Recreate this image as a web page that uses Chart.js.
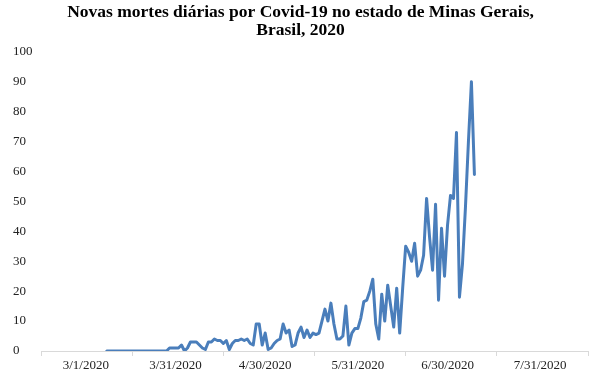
<!DOCTYPE html>
<html lang="pt">
<head>
    <meta charset="UTF-8">
    <title>Novas mortes diárias por Covid-19 - Minas Gerais</title>
    <style>
        body { margin: 0; background: #fff; }
        #grafico { display: block; }
    </style>
</head>
<body>
    <canvas id="grafico" width="600" height="386"></canvas>
    <script src="https://cdn.jsdelivr.net/npm/chart.js"></script>
    <script>
    // dias contados a partir de 1/3/2020 (dia 0)
    const rotulosDatas = ['3/1/2020', '3/31/2020', '4/30/2020', '5/31/2020', '6/30/2020', '7/31/2020'];
    const diasRotulos = [0, 30, 60, 91, 121, 152];
    const diasMarcas = [-15, 15.5, 46, 76.5, 107, 137.5, 168];
    const primeiroDia = 7; // 8/3/2020
    const mortesDiarias = [
        0, 0, 0, 0, 0, 0, 0, 0, 0, 0, 0, 0, 0, 0, 0, 0, 0, 0, 0, 0, 0,
        1, 1, 1, 1, 2, 0, 1, 3, 3, 3, 2, 1, 0.5, 3, 3, 4, 3.5, 3.5, 2.5, 3.5,
        0.5, 2.5, 3.5, 3.5, 4, 3.5, 4, 2.5, 2, 9, 9, 2, 6, 0.5, 1, 2.5, 3.5, 4,
        9, 6, 7, 1.5, 2, 6, 8, 4.5, 7, 4.5, 6, 5.5, 6,
        10, 14, 10, 16, 9, 4, 4, 5, 15, 2, 6, 7.5, 7.5, 11, 16.5, 17, 20, 24,
        9, 4, 19, 10, 22, 15, 8, 21, 6, 21, 35, 33, 30, 36, 25, 27, 32, 51,
        38, 27, 49, 17, 41, 25, 42, 52, 51, 73, 18, 29, 48, 70, 90, 59
    ];

    const pontos = mortesDiarias.map((v, i) => ({ x: primeiroDia + i, y: v }));
    const corEixo = '#d9d9d9';

    new Chart(document.getElementById('grafico'), {
        type: 'line',
        data: {
            datasets: [{
                data: pontos,
                borderColor: '#4a7ebb',
                borderWidth: 3,
                borderJoinStyle: 'round',
                borderCapStyle: 'round',
                pointRadius: 0,
                tension: 0,
                fill: false
            }]
        },
        options: {
            responsive: false,
            animation: false,
            layout: { padding: { left: 13, right: 12, top: 0, bottom: 0 } },
            plugins: {
                legend: { display: false },
                tooltip: { enabled: false },
                title: {
                    display: true,
                    text: ['Novas mortes diárias por Covid-19 no estado de Minas Gerais,', 'Brasil, 2020'],
                    color: '#000',
                    font: { family: 'Liberation Serif', size: 17.5, weight: 'bold', lineHeight: 1.05 },
                    padding: { top: 3, bottom: 12 }
                }
            },
            scales: {
                x: {
                    type: 'linear',
                    min: diasMarcas[0],
                    max: diasMarcas[diasMarcas.length - 1],
                    afterBuildTicks: (eixo) => {
                        const todos = diasMarcas.concat(diasRotulos).sort((a, b) => a - b);
                        eixo.ticks = todos.map(v => ({ value: v }));
                    },
                    afterFit: (eixo) => { eixo.height = 35; },
                    ticks: {
                        autoSkip: false,
                        maxRotation: 0,
                        padding: 2,
                        color: '#222',
                        font: { family: 'Liberation Serif', size: 13 },
                        callback: (valor) => {
                            const k = diasRotulos.indexOf(valor);
                            return k >= 0 ? rotulosDatas[k] : '';
                        }
                    },
                    grid: {
                        drawOnChartArea: false,
                        tickLength: 5,
                        tickColor: (ctx) => diasMarcas.includes(ctx.tick.value) ? corEixo : 'rgba(0,0,0,0)'
                    },
                    border: { color: corEixo, width: 1 }
                },
                y: {
                    min: 0,
                    max: 100,
                    afterFit: (eixo) => { eixo.width = 28; },
                    ticks: {
                        stepSize: 10,
                        crossAlign: 'far',
                        color: '#222',
                        font: { family: 'Liberation Serif', size: 13 }
                    },
                    grid: { display: false },
                    border: { display: false }
                }
            }
        }
    });
    </script>
</body>
</html>
